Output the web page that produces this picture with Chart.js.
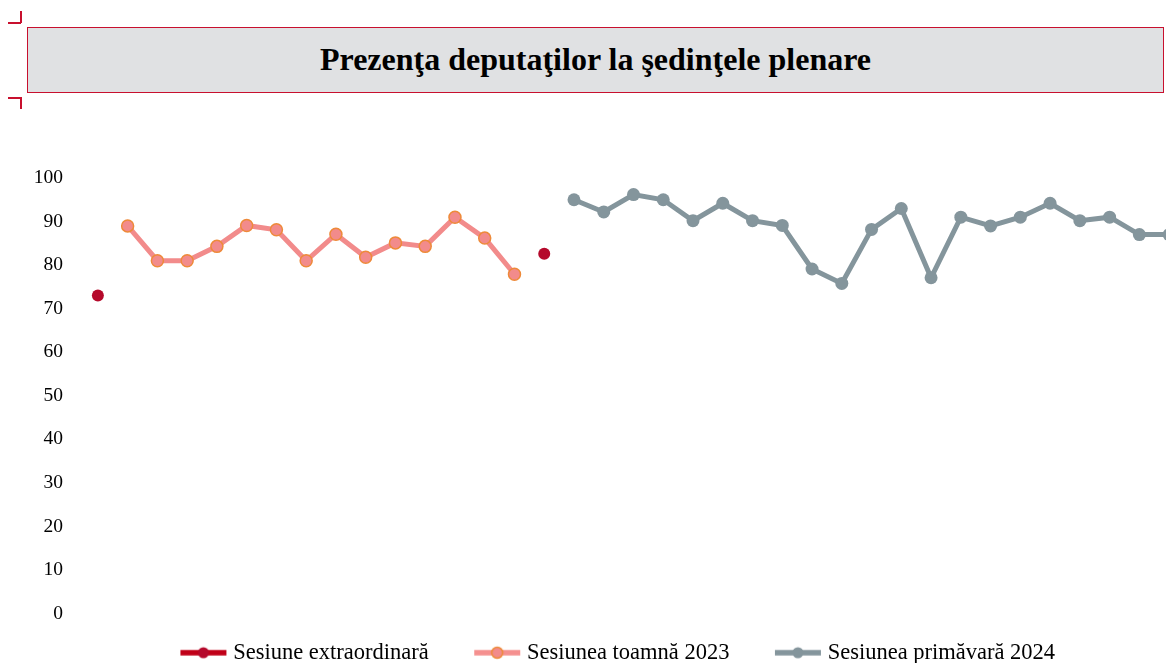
<!DOCTYPE html>
<html><head><meta charset="utf-8">
<script src="https://cdn.jsdelivr.net/npm/chart.js@4"></script>
<style>
html,body{margin:0;padding:0;width:1166px;height:663px;overflow:hidden;background:#fff;}
#title{position:absolute;left:27px;top:27px;width:1135px;height:62px;padding-bottom:2px;background:#e0e1e3;border:1px solid #c8102e;
 display:flex;align-items:center;justify-content:center;font-family:"Liberation Serif",serif;font-weight:bold;font-size:32px;color:#000;}
.mk{position:absolute;background:#c8102e;}
#wrap{position:absolute;left:0;top:105px;width:1200px;height:569px;}
</style></head><body>
<div class="mk" style="left:8px;top:22px;width:13px;height:1.5px"></div>
<div class="mk" style="left:20px;top:11px;width:1.5px;height:12px"></div>
<div class="mk" style="left:8px;top:97px;width:13px;height:1.5px"></div>
<div class="mk" style="left:20px;top:97px;width:1.5px;height:12px"></div>
<div id="title">Prezenţa deputaţilor la şedinţele plenare</div>
<div id="wrap"><canvas id="c" width="1200" height="569"></canvas></div>
<script>
const seriesNames = ["Sesiune extraordinară", "Sesiunea toamnă 2023", "Sesiunea primăvară 2024"];
const extraValues = [73, 82.6];
const toamnaValues = [89, 81, 81, 84.3, 89.1, 88.1, 81, 87.1, 81.8, 85.1, 84.3, 91, 86.2, 77.9];
const primavaraValues = [95, 92.2, 96.2, 95, 90.2, 94.2, 90.2, 89.1, 79.1, 75.8, 88.2, 93, 77.1, 91, 89, 91, 94.2, 90.2, 91, 87, 87];
const yTicks = [0,10,20,30,40,50,60,70,80,90,100];

const nCat = 1 + toamnaValues.length + 1 + primavaraValues.length;
const labels = Array.from({length:nCat}, (_, i) => String(i+1));
const extraData = Array(nCat).fill(null);
extraData[0] = extraValues[0];
extraData[1 + toamnaValues.length] = extraValues[1];
const toamnaData = Array(nCat).fill(null);
toamnaValues.forEach((v,i)=>toamnaData[1+i]=v);
const primData = Array(nCat).fill(null);
primavaraValues.forEach((v,i)=>primData[2+toamnaValues.length+i]=v);

const GAP = 40, MW = 48;
function legendIcon(line, fill, border){
  const c = document.createElement('canvas'); c.width=GAP+MW; c.height=16;
  const x = c.getContext('2d');
  x.strokeStyle=line; x.lineWidth=5.5; x.lineCap='butt';
  x.beginPath(); x.moveTo(GAP+1,8); x.lineTo(GAP+MW-1,8); x.stroke();
  x.fillStyle=fill; x.strokeStyle=border; x.lineWidth=1.5;
  x.beginPath(); x.arc(GAP+MW/2,8,5.5,0,Math.PI*2); x.fill(); if(border!==fill) x.stroke();
  return c;
}
const icons = [legendIcon('#c00018','#b5092b','#b5092b'), legendIcon('#f5908f','#f28b8b','#ee8a3a'), legendIcon('#84959c','#84959c','#84959c')];

const legendShift = {id:'legendShift', afterLayout(chart){ const l=chart.legend; if(l){ l.left+=8; l.right+=8; } }};

new Chart(document.getElementById('c'), {
  type:'line',
  data:{labels, datasets:[
    {label:seriesNames[0], data:extraData, showLine:false, borderColor:'#b5092b', backgroundColor:'#b5092b', pointRadius:6, pointBorderWidth:0, pointStyle:'circle'},
    {label:seriesNames[1], data:toamnaData, borderColor:'#f28b8b', backgroundColor:'#f28b8b', borderWidth:5, pointRadius:6, pointBorderColor:'#ee8a3a', pointBackgroundColor:'#f28b8b', pointBorderWidth:1.5},
    {label:seriesNames[2], data:primData, borderColor:'#84959c', backgroundColor:'#84959c', borderWidth:5, pointRadius:6.5, pointBorderWidth:0, pointBackgroundColor:'#84959c'}
  ]},
  plugins:[legendShift],
  options:{
    responsive:false, animation:false, spanGaps:false,
    layout:{padding:{left:0,right:16,top:73,bottom:0}},
    plugins:{
      title:{display:false}, tooltip:{enabled:false},
      legend:{position:'bottom', labels:{usePointStyle:true, pointStyleWidth:GAP+MW-11, padding:10, color:'#000',
        font:{family:'"Liberation Serif", serif', size:22.5},
        generateLabels:(chart)=>chart.data.datasets.map((d,i)=>({text:d.label, pointStyle:icons[i], fillStyle:d.borderColor, strokeStyle:d.borderColor, lineWidth:0, datasetIndex:i, hidden:false, fontColor:'#000'}))
      }}
    },
    scales:{
      x:{offset:true, grid:{display:false}, border:{display:false}, ticks:{display:false}, afterFit:(s)=>{s.height=18;}},
      y:{min:0, max:100, afterFit:(s)=>{s.width=83;}, grid:{display:false}, border:{display:false},
        afterBuildTicks:(s)=>{s.ticks = yTicks.map(v=>({value:v}));},
        ticks:{padding:12, color:'#000', font:{family:'"Liberation Serif", serif', size:19.5}}}
    }
  }
});
</script>
</body></html>
